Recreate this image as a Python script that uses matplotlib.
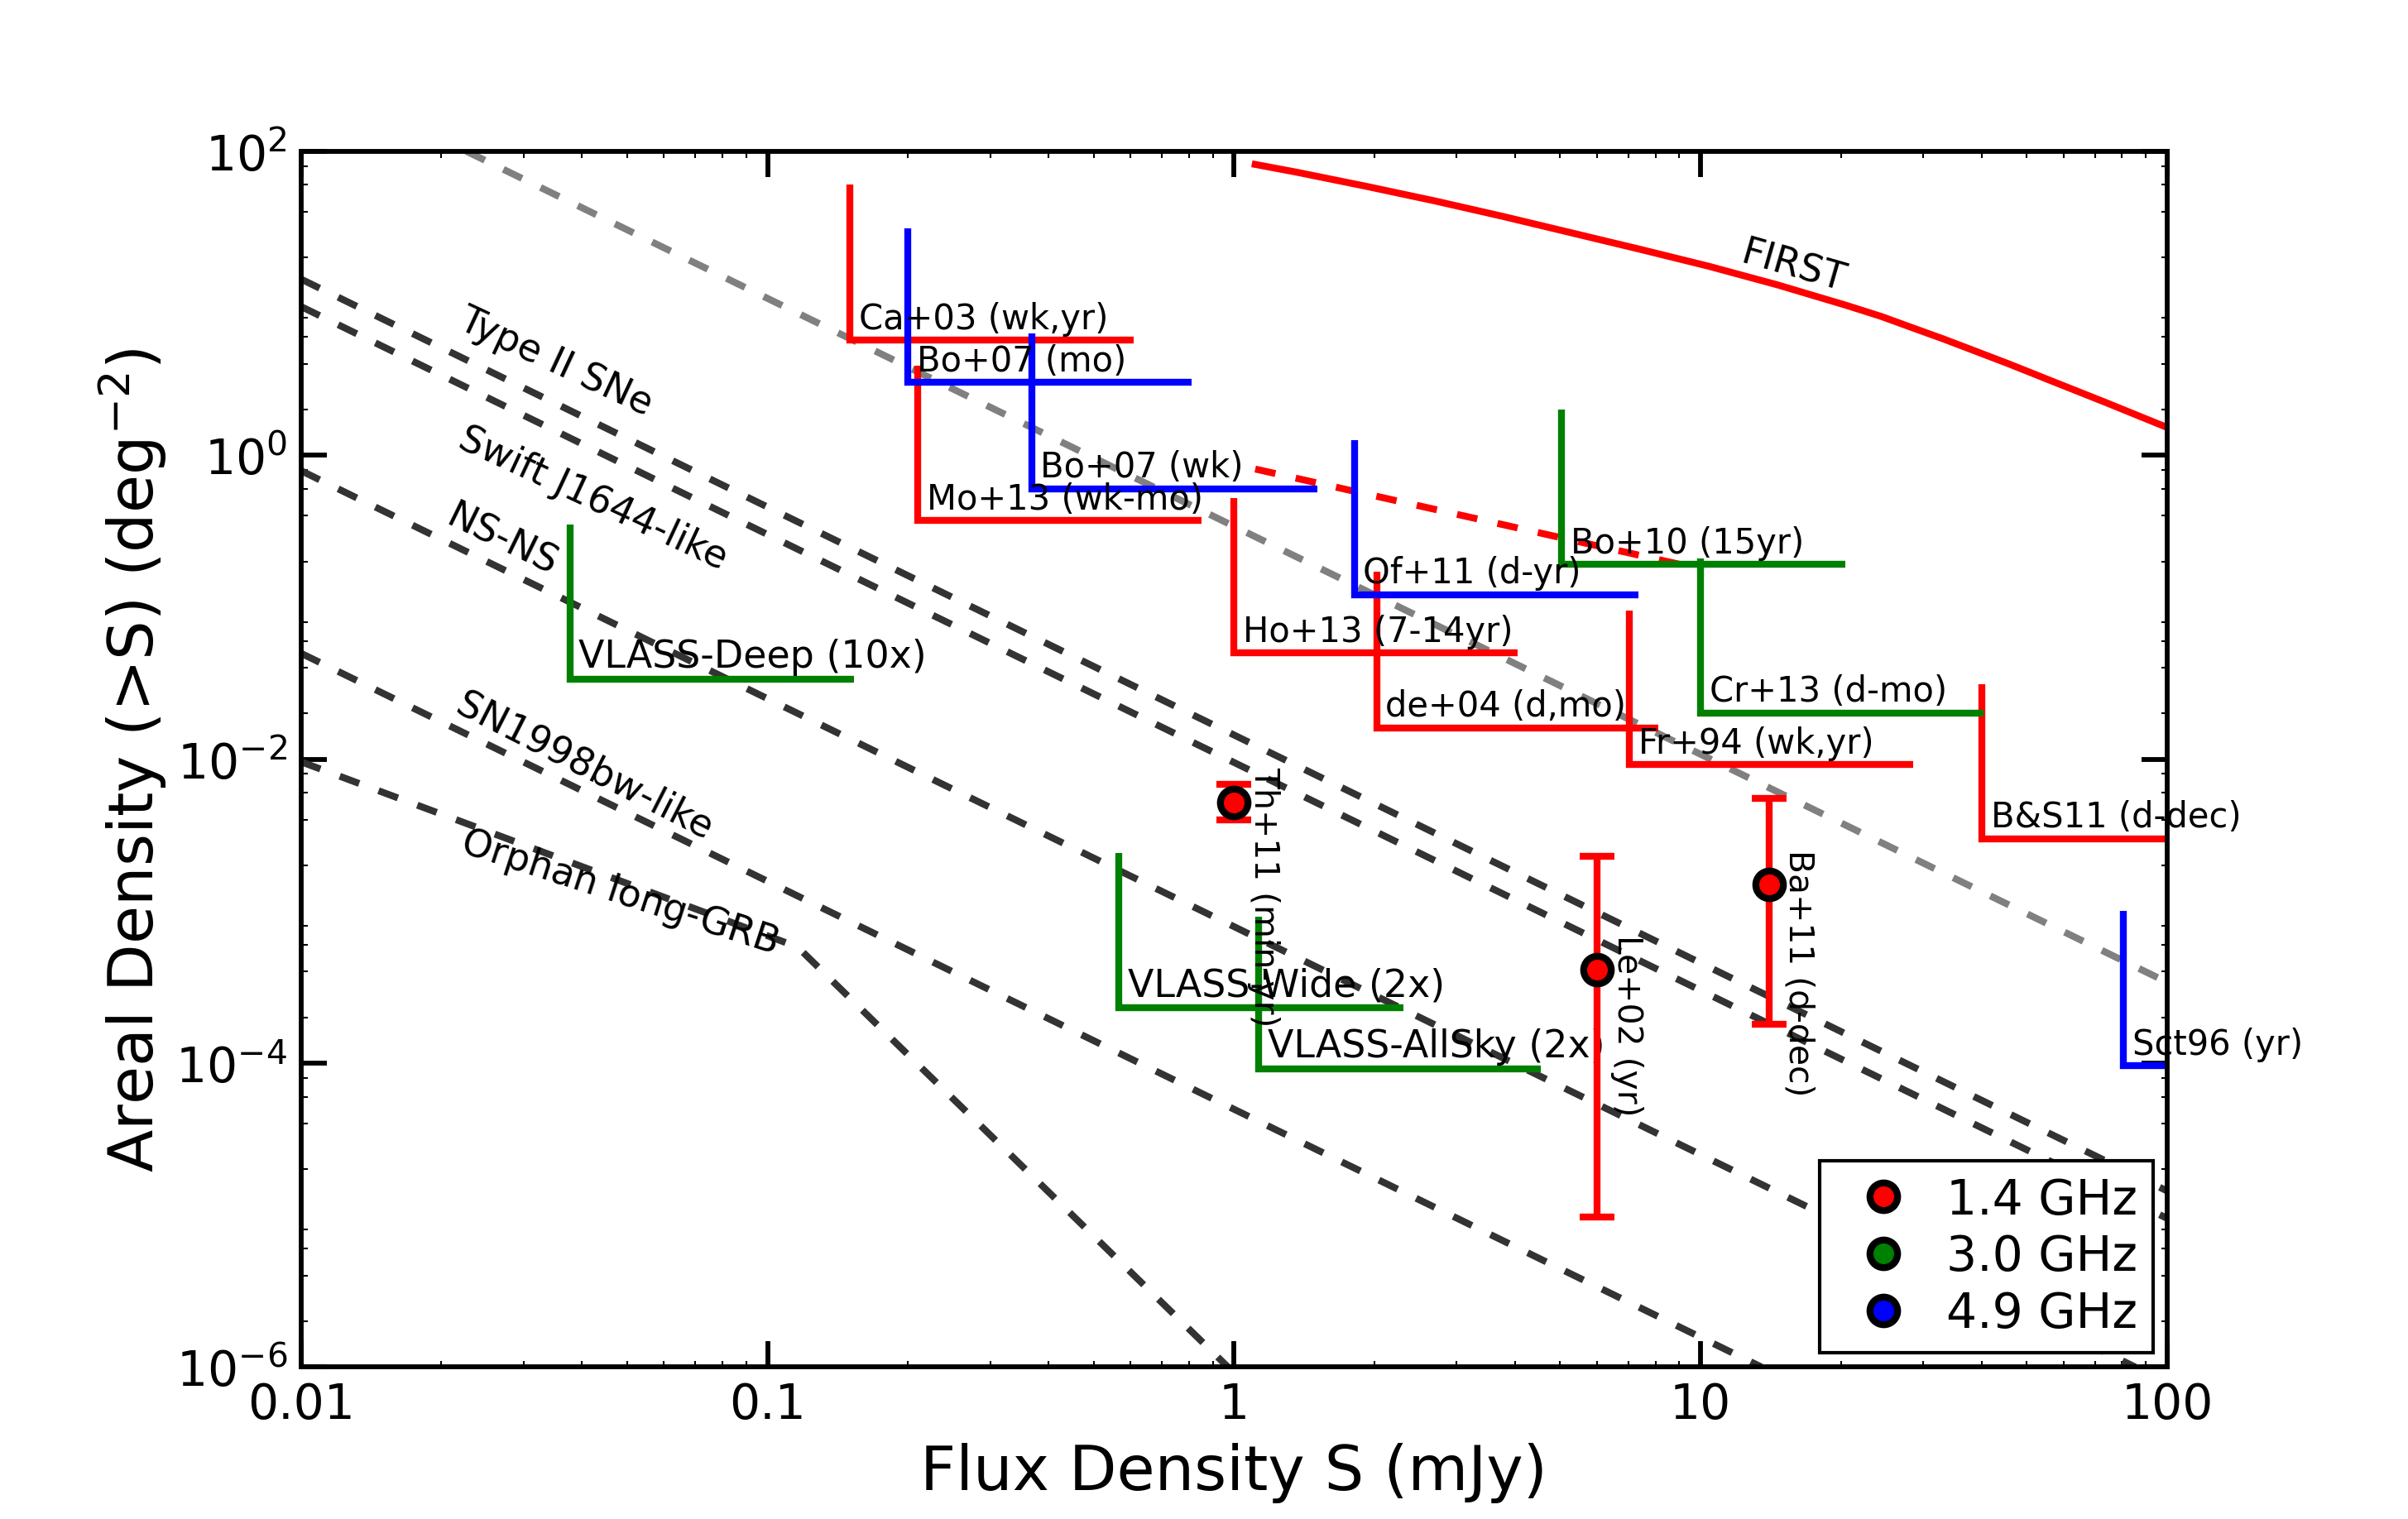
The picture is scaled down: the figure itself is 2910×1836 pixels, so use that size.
import matplotlib
matplotlib.use('Agg')
import matplotlib.pyplot as plt
import numpy as np
from matplotlib.ticker import FixedLocator, LogLocator, FuncFormatter, NullFormatter, LogFormatterSciNotation

plt.rcParams['font.family'] = ['DejaVu Sans']
plt.rcParams['lines.scale_dashes'] = False

# ---- survey limits (L-shaped): S_min (mJy), N at top of vertical, N (deg^-2), S_max (mJy)
red_names = ['Ca+03 (wk,yr)', 'Mo+13 (wk-mo)', 'Ho+13 (7-14yr)', 'de+04 (d,mo)', 'Fr+94 (wk,yr)', 'B&S11 (d-dec)']
red_s0 = [0.15, 0.21, 1.0, 2.02, 7.03, 40.1]
red_ntop = [60.0, 3.86, 0.52, 0.17, 0.095, 0.031]
red_n = [5.7, 0.37, 0.05, 0.0161, 0.0092, 0.0030]
red_s1 = [0.61, 0.85, 4.06, 8.13, 28.6, 100.0]

blue_names = ['Bo+07 (mo)', 'Bo+07 (wk)', 'Of+11 (d-yr)', 'Sct96 (yr)']
blue_s0 = [0.20, 0.368, 1.81, 80.5]
blue_ntop = [31.0, 6.3, 1.26, 1.0e-3]
blue_n = [3.0, 0.60, 0.121, 9.6e-5]
blue_s1 = [0.81, 1.51, 7.35, 100.0]

green_names = ['Bo+10 (15yr)', 'Cr+13 (d-mo)']
green_s0 = [5.03, 10.0]
green_ntop = [2.0, 0.208]
green_n = [0.191, 0.0201]
green_s1 = [20.4, 40.4]

vlass_names = ['VLASS-Deep (10x)', 'VLASS-Wide (2x)', 'VLASS-AllSky (2x)']
vlass_s0 = [0.0377, 0.566, 1.13]
vlass_ntop = [0.35, 2.4e-3, 9.2e-4]
vlass_n = [0.0336, 2.3e-4, 9.2e-5]
vlass_s1 = [0.153, 2.31, 4.54]

# ---- 1.4 GHz detections with error bars
pt_names = ['Th+11 (min-yr)', 'Le+02 (yr)', 'Ba+11 (d-dec)']
pt_s = [1.0, 6.0, 14.0]
pt_n = [5.2e-3, 4.1e-4, 1.5e-3]
pt_lo = [3.98e-3, 9.7e-6, 1.8e-4]
pt_hi = [6.85e-3, 2.3e-3, 5.5e-3]

# ---- transient population models (straight dashed lines, end points)
model_names = ['Type II SNe', 'Swift J1644-like', 'NS-NS', 'SN1998bw-like']
model_s = [[0.01, 100.0], [0.01, 100.0], [0.01, 85.4], [0.01, 13.5]]
model_n = [[14.4, 1.44e-5], [9.5, 9.5e-6], [0.79, 1.0e-6], [0.0497, 1.0e-6]]

orphan_s = [0.01, 0.116, 0.97]
orphan_n = [9.6e-3, 5.8e-4, 1.0e-6]

gray_s = [0.0226, 100.0]
gray_n = [100.0, 3.4e-4]

link_s = [1.11, 9.1]
link_n = [0.81, 0.19]

first_s = [1.11, 1.365, 1.92, 2.69, 3.77, 5.29, 7.42, 10.4, 14.6, 20.5, 24.4, 28.8,
           33.1, 37.7, 45.7, 56.6, 74.1, 100.0]
first_n = [81.8, 72.6, 58.7, 47.1, 37.2, 29.0, 22.6, 17.5, 13.2, 9.68, 8.17, 6.79,
           5.82, 5.00, 3.99, 3.07, 2.21, 1.52]

freqs = ['1.4 GHz', '3.0 GHz', '4.9 GHz']
freq_colors = ['red', 'green', 'blue']


fig = plt.figure(figsize=(9.7, 6.1233), dpi=300)
ax = fig.add_axes([0.125, 0.1, 0.775, 0.8])
ax.set_xscale('log')
ax.set_yscale('log')

dash = (0, (6, 6))
for s, n in zip(model_s, model_n):
    ax.plot(s, n, color='#333333', lw=2, ls=dash)
ax.plot(orphan_s, orphan_n, color='#333333', lw=2, ls=dash)
ax.plot(gray_s, gray_n, color='#808080', lw=2, ls=dash)
ax.plot(link_s, link_n, color='red', lw=2, ls=dash)
ax.plot(first_s, first_n, color='red', lw=2, solid_joinstyle='round')


def draw_limits(names, s0, ntop, n, s1, color, size):
    for i in range(len(names)):
        ax.plot([s0[i], s0[i], s1[i]], [ntop[i], n[i], n[i]], color=color, lw=2,
                solid_capstyle='butt', solid_joinstyle='miter')
        ax.text(s0[i] * 1.045, n[i] * 1.2, names[i], fontsize=size, ha='left', va='baseline')


draw_limits(red_names, red_s0, red_ntop, red_n, red_s1, 'red', 10)
draw_limits(blue_names, blue_s0, blue_ntop, blue_n, blue_s1, 'blue', 10)
draw_limits(green_names, green_s0, green_ntop, green_n, green_s1, 'green', 10)
draw_limits(vlass_names, vlass_s0, vlass_ntop, vlass_n, vlass_s1, 'green', 11)

pt_s = np.array(pt_s)
pt_n = np.array(pt_n)
yerr = [pt_n - np.array(pt_lo), np.array(pt_hi) - pt_n]
ax.errorbar(pt_s, pt_n, yerr=yerr, fmt='o', ms=8, mfc='red', mec='black', mew=2,
            ecolor='red', elinewidth=2, capsize=5, capthick=2, zorder=5)
for s, n, name in zip(pt_s, pt_n, pt_names):
    ax.text(s * 1.068, n * 1.72, name, rotation=270, ha='left', va='top', fontsize=9.8)

# model labels
lab_kw = dict(fontsize=11, ha='center', va='center', rotation_mode='anchor')
ax.text(0.0351, 4.1, 'Type II SNe', rotation=-25, **lab_kw)
ax.text(0.0423, 0.52, 'Swift J1644-like', rotation=-25, **lab_kw)
ax.text(0.027, 0.275, 'NS-NS', rotation=-26, **lab_kw)
ax.text(0.0404, 9.0e-3, 'SN1998bw-like', rotation=-27, **lab_kw)
ax.text(0.0484, 1.32e-3, 'Orphan long-GRB', rotation=-18, **lab_kw)
ax.text(15.8, 17.5, 'FIRST', rotation=-16, **lab_kw)

for lab, c in zip(freqs, freq_colors):
    ax.plot([], [], 'o', ms=8, mfc=c, mec='black', mew=2, ls='none', label=lab)
leg = ax.legend(loc='lower right', fontsize=14, numpoints=1, fancybox=False, framealpha=1,
                edgecolor='black', borderpad=0.32, labelspacing=0.2, handletextpad=0.3,
                borderaxespad=0.3)
leg.get_frame().set_linewidth(1.0)
leg.set_zorder(10)

ax.set_xlim(0.01, 100)
ax.set_ylim(1e-6, 1e2)
ax.xaxis.set_major_locator(LogLocator(base=10, numticks=100))
ax.xaxis.set_minor_locator(LogLocator(base=10, subs=np.arange(2, 10), numticks=100))
ax.xaxis.set_major_formatter(FuncFormatter(lambda v, p: '%g' % v))
ax.xaxis.set_minor_formatter(NullFormatter())
ax.yaxis.set_major_locator(FixedLocator([1e-6, 1e-4, 1e-2, 1, 1e2]))
ax.yaxis.set_minor_locator(LogLocator(base=10, subs=(2, 4, 6, 8), numticks=100))
ax.yaxis.set_major_formatter(LogFormatterSciNotation())
ax.yaxis.set_minor_formatter(NullFormatter())

ax.tick_params(which='both', direction='in', top=True, right=True)
ax.tick_params(which='major', length=7.5, width=1.4, labelsize=14, pad=4)
ax.tick_params(which='minor', length=1.8, width=0.5)
for sp in ax.spines.values():
    sp.set_linewidth(1.4)

ax.set_xlabel('Flux Density S (mJy)', fontsize=18)
ax.set_ylabel('Areal Density (>S) (deg$^{-2}$)', fontsize=18, labelpad=2)

fig.savefig('out.png', dpi=300)
